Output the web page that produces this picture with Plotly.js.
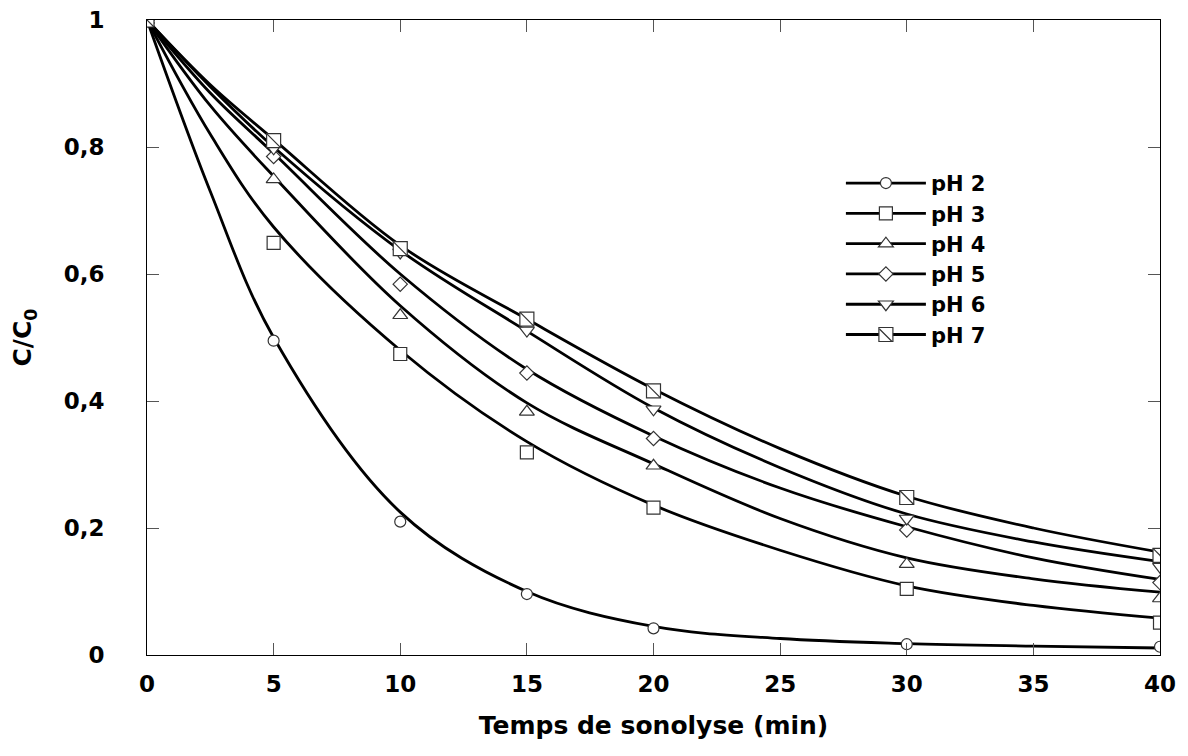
<!DOCTYPE html>
<html>
<head>
<meta charset="utf-8">
<script src="https://cdn.plot.ly/plotly-3.0.1.min.js"></script>
<style>html,body{margin:0;padding:0;background:#fff;}#chart{width:1188px;height:756px;}</style>
</head>
<body>
<div id="chart"></div>
<script>
// measured points
const timeMin = [0, 5, 10, 15, 20, 30, 40];
const pH2 = [1, 0.495, 0.210, 0.096, 0.042, 0.017, 0.013];
const pH3 = [1, 0.649, 0.474, 0.319, 0.232, 0.104, 0.051];
const pH4 = [1, 0.749, 0.535, 0.383, 0.298, 0.143, 0.089];
const pH5 = [1, 0.785, 0.584, 0.444, 0.341, 0.197, 0.114];
const pH6 = [1, 0.798, 0.634, 0.511, 0.387, 0.215, 0.139];
const pH7 = [1, 0.810, 0.640, 0.529, 0.416, 0.248, 0.157];

// fitted curves
const fitTime = [0, 2.5, 5, 10, 15, 20, 25, 30, 35, 40];
const fit2 = [1, 0.73, 0.50, 0.225, 0.100, 0.045, 0.026, 0.018, 0.014, 0.011];
const fit3 = [1, 0.82, 0.674, 0.48, 0.336, 0.236, 0.165, 0.109, 0.078, 0.058];
const fit4 = [1, 0.865, 0.754, 0.55, 0.397, 0.301, 0.215, 0.153, 0.120, 0.099];
const fit5 = [1, 0.885, 0.79, 0.60, 0.450, 0.345, 0.263, 0.202, 0.153, 0.119];
const fit6 = [1, 0.895, 0.80, 0.637, 0.510, 0.389, 0.295, 0.222, 0.178, 0.147];
const fit7 = [1, 0.898, 0.812, 0.645, 0.529, 0.419, 0.325, 0.250, 0.200, 0.162];

const seriesNames = ['pH 2', 'pH 3', 'pH 4', 'pH 5', 'pH 6', 'pH 7'];
const xTicks = [0, 5, 10, 15, 20, 25, 30, 35, 40];
const yTicks = [0, 0.2, 0.4, 0.6, 0.8, 1];

const measured = [pH2, pH3, pH4, pH5, pH6, pH7];
const fits = [fit2, fit3, fit4, fit5, fit6, fit7];
const symbols = ['circle', 'square', 'triangle-up', 'diamond', 'triangle-down', 'square'];
const sizes = [11, 13, 13, 11, 13, 14];

const traces = [];
fits.forEach(function (f) {
  traces.push({x: fitTime, y: f, mode: 'lines', type: 'scatter', showlegend: false,
    line: {color: '#000', width: 2.8, shape: 'spline', smoothing: 1}, hoverinfo: 'skip'});
});
measured.forEach(function (m, i) {
  traces.push({x: timeMin, y: m, mode: 'markers', type: 'scatter', showlegend: false,
    marker: {symbol: symbols[i], size: sizes[i], color: '#fff', line: {color: '#333', width: 1.2}}});
});
// diagonal inside pH 7 squares
traces.push({x: timeMin, y: pH7, mode: 'markers', type: 'scatter', showlegend: false,
  marker: {symbol: 'line-nw', size: 14, line: {color: '#333', width: 1.2}}});
// legend entries
seriesNames.forEach(function (n, i) {
  traces.push({x: [null], y: [null], mode: 'lines+markers', type: 'scatter', name: n,
    line: {color: '#000', width: 2.8},
    marker: {symbol: symbols[i], size: sizes[i], color: '#fff', line: {color: '#333', width: 1.2}}});
});

const fontFam = 'DejaVu Sans, Liberation Sans, sans-serif';
const layout = {
  width: 1188, height: 756,
  margin: {l: 147, r: 28, t: 20, b: 101},
  paper_bgcolor: '#fff', plot_bgcolor: '#fff',
  separators: ', ',
  font: {family: fontFam, color: '#000'},
  xaxis: {
    range: [0, 40], tickvals: xTicks, ticktext: xTicks.map(String),
    ticks: 'inside', ticklen: 12, tickcolor: '#555', tickwidth: 1,
    showline: true, linecolor: '#000', linewidth: 1, mirror: 'allticks',
    showgrid: false, zeroline: false,
    tickfont: {family: fontFam, size: 23, color: '#000', weight: 'bold'},
    ticklabelstandoff: 8,
    title: {text: 'Temps de sonolyse (min)', font: {family: fontFam, size: 25, color: '#000', weight: 'bold'}, standoff: 20}
  },
  yaxis: {
    range: [0, 1], tickvals: yTicks,
    ticks: 'inside', ticklen: 12, tickcolor: '#555', tickwidth: 1,
    showline: true, linecolor: '#000', linewidth: 1, mirror: 'allticks',
    showgrid: false, zeroline: false,
    tickfont: {family: fontFam, size: 23, color: '#000', weight: 'bold'},
    ticklabelstandoff: 37,
    title: {text: 'C/C<sub>0</sub>', font: {family: fontFam, size: 25, color: '#000', weight: 'bold'}, standoff: 24}
  },
  legend: {
    x: 0.685, y: 0.775, xanchor: 'left', yanchor: 'top',
    bgcolor: 'rgba(0,0,0,0)', borderwidth: 0,
    font: {family: fontFam, size: 21, color: '#000', weight: 'bold'},
    itemwidth: 80, tracegroupgap: 0
  },
  // diagonal stroke of the pH 7 legend symbol (drawn as an arrow-less annotation line)
  annotations: [{xref: 'paper', yref: 'paper', x: 0.7354, y: 0.4937,
    text: '', showarrow: true, arrowhead: 0, ax: -14, ay: -14, standoff: 0, startstandoff: 0,
    arrowwidth: 1.2, arrowcolor: '#333'}],
  showlegend: true
};

Plotly.newPlot('chart', traces, layout, {displayModeBar: false, staticPlot: true});
</script>
</body>
</html>
